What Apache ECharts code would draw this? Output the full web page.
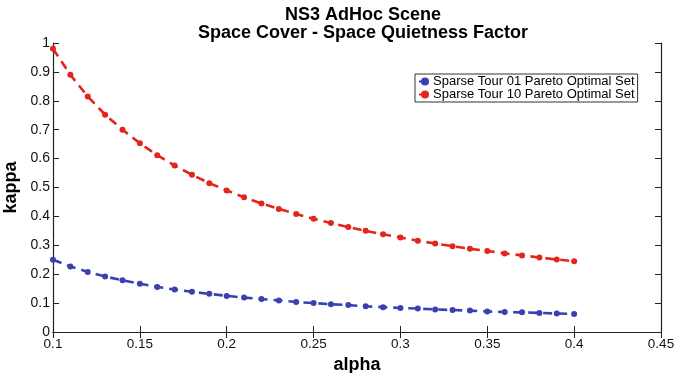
<!DOCTYPE html>
<html>
<head>
<meta charset="utf-8">
<script src="https://cdn.jsdelivr.net/npm/echarts@6/dist/echarts.min.js"></script>
<style>
  html, body { margin: 0; padding: 0; background: #fff; }
  #chart { width: 675px; height: 373px; }
</style>
</head>
<body>
<div id="chart"></div>
<script>
// alpha values sampled at 0.01 steps
const alpha = [0.10, 0.11, 0.12, 0.13, 0.14, 0.15, 0.16, 0.17, 0.18, 0.19,
               0.20, 0.21, 0.22, 0.23, 0.24, 0.25, 0.26, 0.27, 0.28, 0.29,
               0.30, 0.31, 0.32, 0.33, 0.34, 0.35, 0.36, 0.37, 0.38, 0.39, 0.40];

// kappa for Sparse Tour 01
const kappaTour01 = [0.250, 0.227, 0.208, 0.192, 0.179, 0.167, 0.156, 0.147, 0.139, 0.132,
                     0.125, 0.119, 0.114, 0.109, 0.104, 0.100, 0.096, 0.093, 0.089, 0.086,
                     0.083, 0.081, 0.078, 0.076, 0.074, 0.071, 0.069, 0.068, 0.066, 0.064, 0.0625];

// kappa for Sparse Tour 10
const kappaTour10 = [0.980, 0.890, 0.815, 0.752, 0.700, 0.653, 0.612, 0.576, 0.544, 0.515,
                     0.490, 0.466, 0.445, 0.426, 0.408, 0.392, 0.377, 0.363, 0.350, 0.338,
                     0.327, 0.316, 0.306, 0.297, 0.288, 0.280, 0.272, 0.265, 0.258, 0.251, 0.245];

const seriesNames = ['Sparse Tour 01 Pareto Optimal Set', 'Sparse Tour 10 Pareto Optimal Set'];
const xTicks = [0.1, 0.15, 0.2, 0.25, 0.3, 0.35, 0.4, 0.45];
const yTicks = [0, 0.1, 0.2, 0.3, 0.4, 0.5, 0.6, 0.7, 0.8, 0.9, 1];

const FONT = '"Liberation Sans", Arial, Helvetica, sans-serif';

function pairs(xs, ys) { return xs.map((x, i) => [x, ys[i]]); }
function fmt(v) { return String(Math.round(v * 100) / 100); }

const chart = echarts.init(document.getElementById('chart'), null, { renderer: 'canvas' });

const axisLine = { show: true, lineStyle: { color: '#222', width: 1.2 } };
const tickIn = { show: true, inside: true, length: 6, lineStyle: { color: '#222', width: 1 } };

function lineSeries(name, data, color) {
  return {
    name: name,
    type: 'line',
    data: data,
    xAxisIndex: 0,
    yAxisIndex: 0,
    symbol: 'circle',
    symbolSize: 6,
    showSymbol: true,
    itemStyle: { color: color },
    lineStyle: { color: color, width: 2.6, type: [9, 6] },
    animation: false
  };
}

chart.setOption({
  backgroundColor: '#fff',
  animation: false,
  title: {
    text: 'NS3 AdHoc Scene\nSpace Cover - Space Quietness Factor',
    left: 358,
    textAlign: 'center',
    top: 1,
    textStyle: { fontFamily: FONT, fontSize: 18, fontWeight: 'bold', color: '#000', lineHeight: 18 }
  },
  legend: {
    data: seriesNames,
    orient: 'vertical',
    left: 415,
    top: 74,
    padding: [1, 3, 1, 3],
    itemGap: 0,
    itemWidth: 12,
    itemHeight: 10,
    borderColor: '#333',
    borderWidth: 1,
    backgroundColor: '#fff',
    textStyle: { fontFamily: FONT, fontSize: 13, color: '#000', padding: [0, 0, 0, -3] }
  },
  grid: { left: 53, right: 14, top: 43, bottom: 41, containLabel: false, outerBoundsMode: 'none' },
  xAxis: [{
    type: 'value',
    min: 0.1, max: 0.45, interval: 0.05,
    name: 'alpha',
    nameLocation: 'middle',
    nameGap: 17,
    nameTextStyle: { fontFamily: FONT, fontSize: 18, fontWeight: 'bold', color: '#000' },
    axisLine: axisLine,
    axisTick: tickIn,
    splitLine: { show: false },
    axisLabel: { fontFamily: FONT, fontSize: 13.5, color: '#111', margin: 5,
                 formatter: v => xTicks.some(t => Math.abs(t - v) < 1e-9) ? fmt(v) : '' }
  }, {
    type: 'value',
    position: 'top',
    min: 0.1, max: 0.45, interval: 0.05,
    axisLine: axisLine,
    axisTick: tickIn,
    splitLine: { show: false },
    axisLabel: { show: false }
  }],
  yAxis: [{
    type: 'value',
    min: 0, max: 1, interval: 0.1,
    name: 'kappa',
    nameLocation: 'middle',
    nameGap: 28,
    nameRotate: 90,
    nameTextStyle: { fontFamily: FONT, fontSize: 18, fontWeight: 'bold', color: '#000' },
    axisLine: axisLine,
    axisTick: tickIn,
    splitLine: { show: false },
    axisLabel: { fontFamily: FONT, fontSize: 14, color: '#111', margin: 3,
                 formatter: v => yTicks.some(t => Math.abs(t - v) < 1e-9) ? fmt(v) : '' }
  }, {
    type: 'value',
    position: 'right',
    min: 0, max: 1, interval: 0.1,
    axisLine: axisLine,
    axisTick: tickIn,
    splitLine: { show: false },
    axisLabel: { show: false }
  }],
  series: [
    lineSeries(seriesNames[0], pairs(alpha, kappaTour01), '#3a40b2'),
    lineSeries(seriesNames[1], pairs(alpha, kappaTour10), '#e2261c')
  ]
});
</script>
</body>
</html>
